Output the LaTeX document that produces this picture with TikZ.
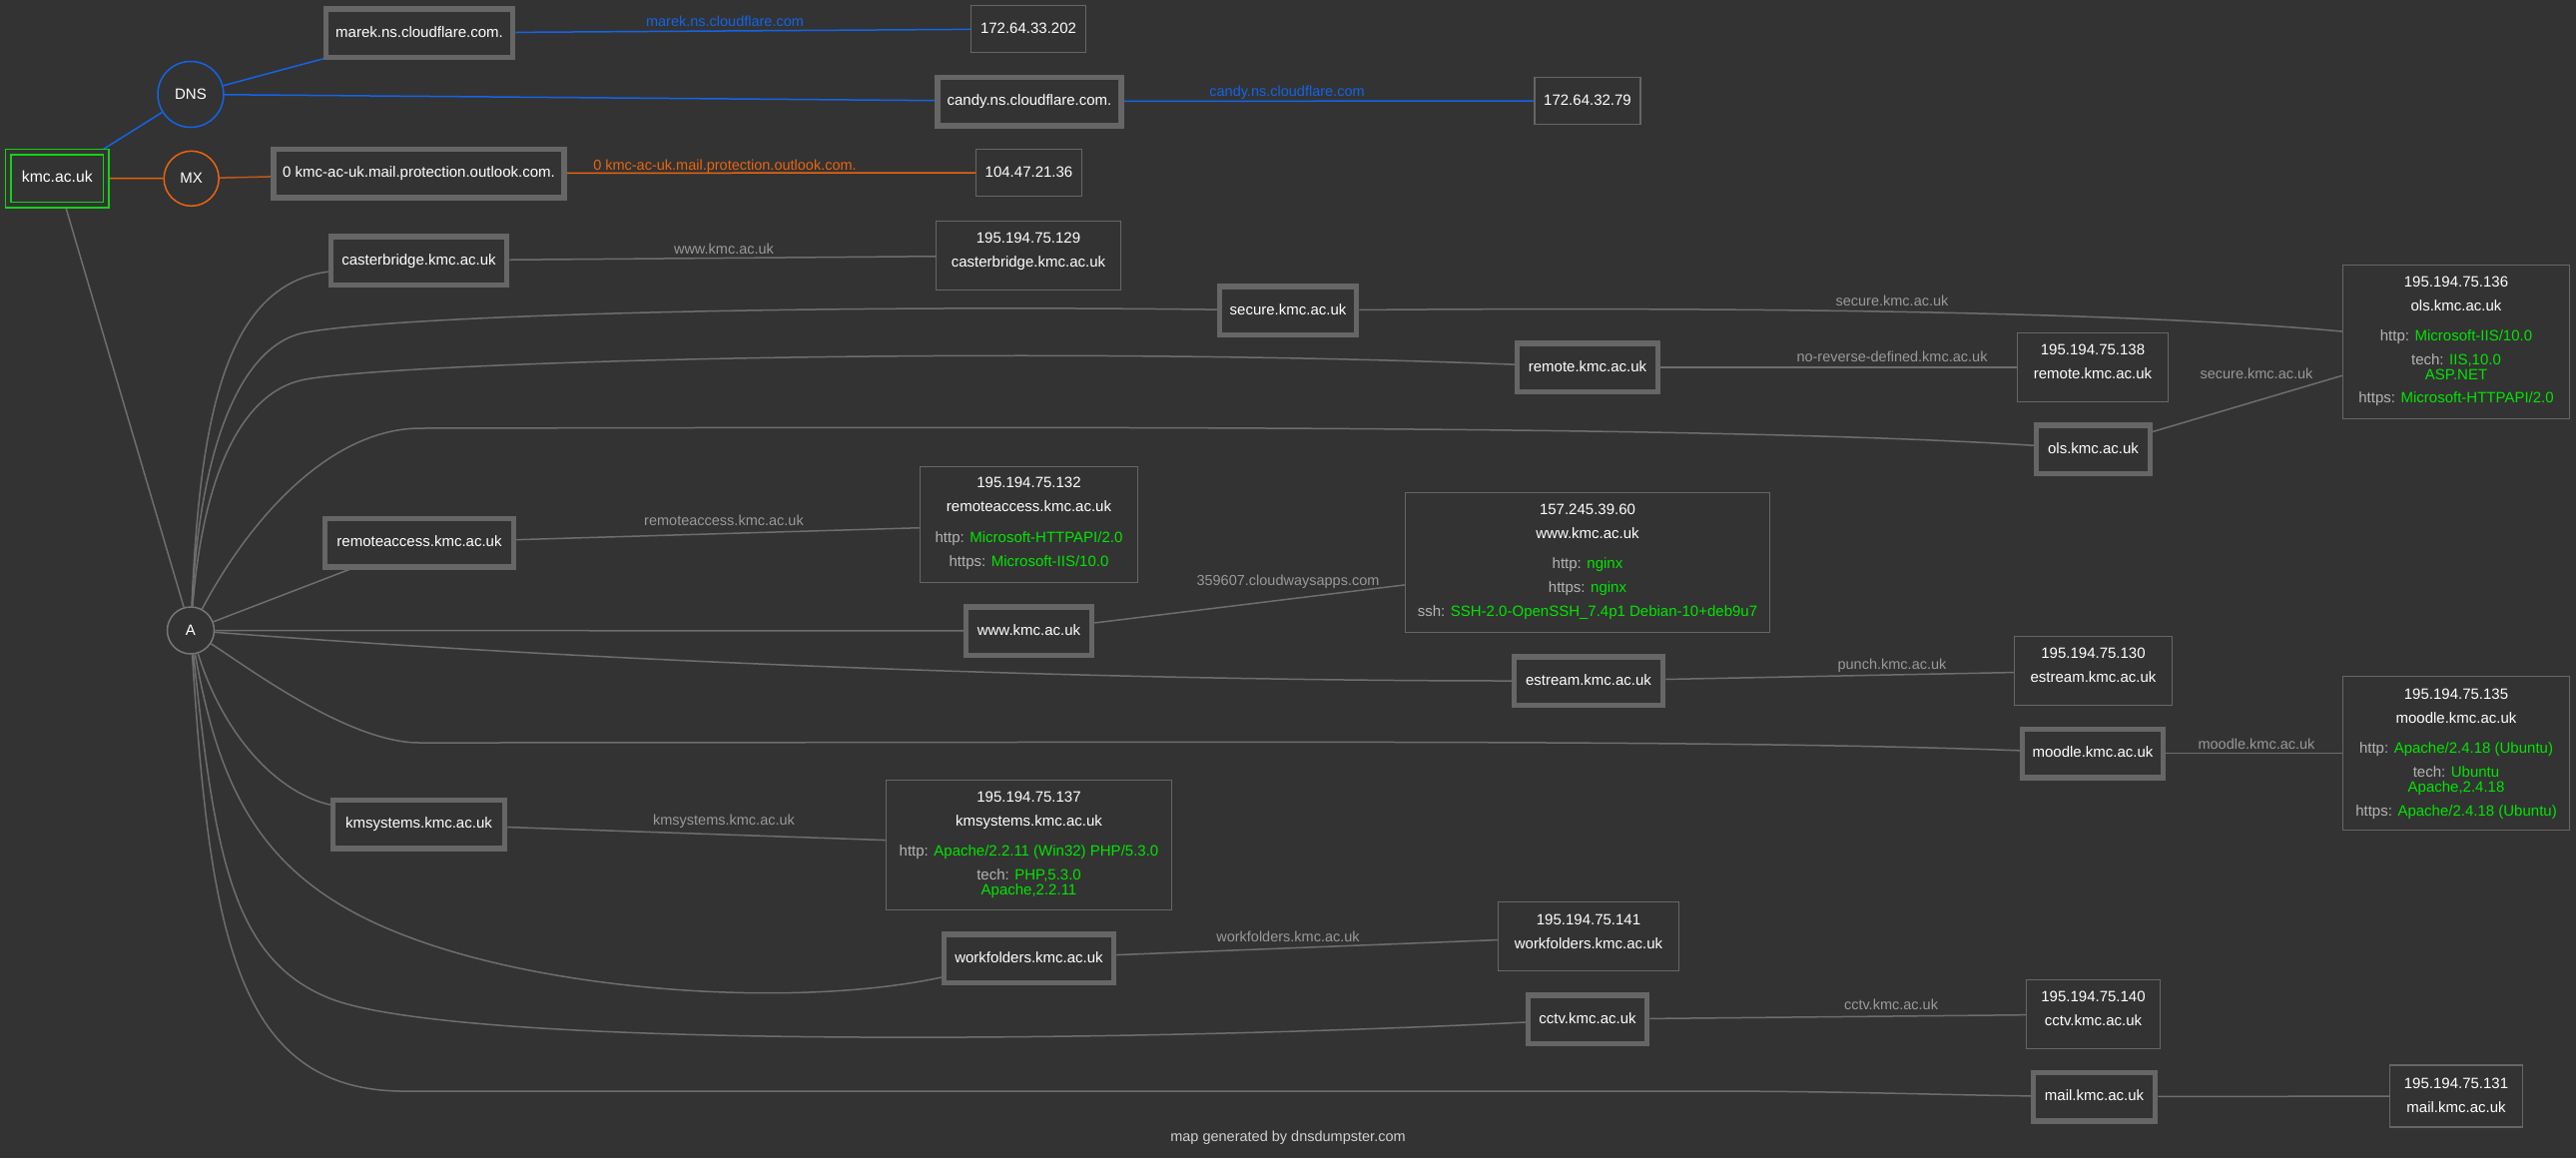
\documentclass[tikz,border=0pt]{standalone}
\usepackage{fontspec}
\setmainfont{Liberation Sans}
\pgfdeclarelayer{bglayer}
\pgfdeclarelayer{edgelayer}
\pgfsetlayers{bglayer,edgelayer,main}
\definecolor{bg}{HTML}{333333}
\definecolor{boxgray}{HTML}{666666}
\definecolor{edgegray}{HTML}{6E6E6E}
\definecolor{agray}{HTML}{777777}
\definecolor{lblgray}{HTML}{999999}
\definecolor{keygray}{HTML}{B4B4B4}
\definecolor{grn}{HTML}{00E600}
\definecolor{kmcgreen}{HTML}{14D214}
\definecolor{dnsblue}{HTML}{1464E6}
\definecolor{mxorange}{HTML}{E8650F}
\definecolor{mxdark}{HTML}{C0581C}
\definecolor{footgray}{HTML}{D0D0D0}
\newcommand{\srvline}[2]{{\color{keygray}#1:} {\color{grn}#2}}
\begin{document}
\begin{tikzpicture}[x=1pt,y=-1pt,
  host/.style={draw=boxgray, line width=5.5pt, fill=bg, text=white,
    font=\fontsize{15}{18}\selectfont, text height=11pt, text depth=3pt,
    minimum height=48.5pt, inner sep=0pt},
  ipbox/.style={draw=boxgray, line width=1.5pt, fill=bg, inner sep=0pt, text=white,
    font=\fontsize{15}{18}\selectfont, text height=11pt, text depth=3pt},
  iptext/.style={text=white, font=\fontsize{15}{24}\selectfont, align=center, inner sep=0pt},
  ring/.style={circle, line width=1.5pt, fill=bg, text=white,
    font=\fontsize{15}{18}\selectfont, inner sep=0pt},
  link/.style={draw=edgegray, line width=1.5pt},
  dnslink/.style={draw=dnsblue, line width=1.5pt},
  mxlink/.style={draw=mxorange, line width=1.5pt},
  elabel/.style={text=lblgray, font=\fontsize{14.5}{17}\selectfont,
    text height=10.5pt, text depth=3pt, inner sep=0pt}]
\useasboundingbox (0,0) rectangle (2580,1160);
\begin{pgfonlayer}{bglayer}
\fill[bg] (0,0) rectangle (2580,1160);
\end{pgfonlayer}

% root
\node[draw=kmcgreen, double=bg, double distance=4pt, line width=1.5pt, fill=bg,
  minimum width=98.3pt, minimum height=53pt, inner sep=0pt, text=white,
  font=\fontsize{15.7}{18}\selectfont, text height=11pt, text depth=3pt] (kmc) at (57.3,178.5) {kmc.ac.uk};

% record type circles
\node[ring, draw=dnsblue, minimum size=66pt] (DNS) at (191,94.5) {DNS};
\node[ring, draw=mxorange, minimum size=55pt] (MX) at (191.7,178.8) {MX};
\node[ring, draw=agray, minimum size=47pt] (A) at (191,631.5) {A};

% host boxes
\node[host, minimum width=187pt] (marek) at (420,33) {marek.ns.cloudflare.com.};
\node[host, minimum width=184pt] (candy) at (1031,101.5) {candy.ns.cloudflare.com.};
\node[host, minimum width=291pt] (outlook) at (419.5,173.5) {0 kmc-ac-uk.mail.protection.outlook.com.};
\node[host, minimum width=176pt] (caster) at (419.5,261) {casterbridge.kmc.ac.uk};
\node[host, minimum width=137pt] (secure) at (1290,311) {secure.kmc.ac.uk};
\node[host, minimum width=141pt] (remote) at (1590,368) {remote.kmc.ac.uk};
\node[host, minimum width=114pt] (ols) at (2096.5,450) {ols.kmc.ac.uk};
\node[host, minimum width=189pt] (raccess) at (420,543.5) {remoteaccess.kmc.ac.uk};
\node[host, minimum width=126pt] (www) at (1030.5,632) {www.kmc.ac.uk};
\node[host, minimum width=149pt] (estream) at (1591,682) {estream.kmc.ac.uk};
\node[host, minimum width=141pt] (moodle) at (2096,754.5) {moodle.kmc.ac.uk};
\node[host, minimum width=172pt] (kms) at (419.5,825.5) {kmsystems.kmc.ac.uk};
\node[host, minimum width=170pt] (wf) at (1030.5,960) {workfolders.kmc.ac.uk};
\node[host, minimum width=119pt] (cctv) at (1590,1021) {cctv.kmc.ac.uk};
\node[host, minimum width=122pt] (mail) at (2097.5,1098.5) {mail.kmc.ac.uk};

% single-line ip boxes
\node[ipbox, minimum width=115pt, minimum height=47pt] (ip1) at (1030,29) {172.64.33.202};
\node[ipbox, minimum width=106pt, minimum height=47pt] (ip2) at (1590,101) {172.64.32.79};
\node[ipbox, minimum width=106pt, minimum height=47pt] (ip3) at (1030.5,173) {104.47.21.36};

% multi-line ip boxes
\node[ipbox, minimum width=185pt, minimum height=69pt] (ipcast) at (1030,256) {};
\node[iptext] (ipcastT) at (1030,251) {\strut 195.194.75.129\\casterbridge.kmc.ac.uk\strut};

\node[ipbox, minimum width=227pt, minimum height=154pt] (ipols) at (2460,342.5) {};
\node[iptext] (ipolsT) at (2460,341) {\strut 195.194.75.136\\ols.kmc.ac.uk\\[6pt]
  \srvline{http}{Microsoft-IIS/10.0}\\ \srvline{tech}{IIS,10.0}\\[-9pt]
  {\color{grn}ASP.NET}\\[-1pt] \srvline{https}{Microsoft-HTTPAPI/2.0}\strut};

\node[ipbox, minimum width=151pt, minimum height=69pt] (ipremote) at (2096,368) {};
\node[iptext] (ipremoteT) at (2096,363) {\strut 195.194.75.138\\remote.kmc.ac.uk\strut};

\node[ipbox, minimum width=218pt, minimum height=116pt] (ipra) at (1030.5,525.5) {};
\node[iptext] (ipraT) at (1030.5,523.5) {\strut 195.194.75.132\\remoteaccess.kmc.ac.uk\\[7pt]
  \srvline{http}{Microsoft-HTTPAPI/2.0}\\ \srvline{https}{Microsoft-IIS/10.0}\strut};

\node[ipbox, minimum width=365pt, minimum height=140pt] (ipwww) at (1590,563.5) {};
\node[iptext] (ipwwwT) at (1590,562) {\strut 157.245.39.60\\www.kmc.ac.uk\\[6pt]
  \srvline{http}{nginx}\\ \srvline{https}{nginx}\\
  \srvline{ssh}{SSH-2.0-OpenSSH\_7.4p1 Debian-10+deb9u7}\strut};

\node[ipbox, minimum width=158pt, minimum height=69pt] (ipest) at (2096.5,672) {};
\node[iptext] (ipestT) at (2096.5,667) {\strut 195.194.75.130\\estream.kmc.ac.uk\strut};

\node[ipbox, minimum width=227pt, minimum height=154pt] (ipmoodle) at (2460,754.5) {};
\node[iptext] (ipmoodleT) at (2460,754) {\strut 195.194.75.135\\moodle.kmc.ac.uk\\[6pt]
  \srvline{http}{Apache/2.4.18 (Ubuntu)}\\ \srvline{tech}{Ubuntu}\\[-9pt]
  {\color{grn}Apache,2.4.18}\\ \srvline{https}{Apache/2.4.18 (Ubuntu)}\strut};

\node[ipbox, minimum width=286pt, minimum height=130pt] (ipkms) at (1030.5,846.5) {};
\node[iptext] (ipkmsT) at (1030.5,845.5) {\strut 195.194.75.137\\kmsystems.kmc.ac.uk\\[6pt]
  \srvline{http}{Apache/2.2.11 (Win32) PHP/5.3.0}\\ \srvline{tech}{PHP,5.3.0}\\[-9pt]
  {\color{grn}Apache,2.2.11}\strut};

\node[ipbox, minimum width=181pt, minimum height=69pt] (ipwf) at (1591,938) {};
\node[iptext] (ipwfT) at (1591,933.5) {\strut 195.194.75.141\\workfolders.kmc.ac.uk\strut};

\node[ipbox, minimum width=134pt, minimum height=69pt] (ipcctv) at (2096.5,1016) {};
\node[iptext] (ipcctvT) at (2096.5,1011) {\strut 195.194.75.140\\cctv.kmc.ac.uk\strut};

\node[ipbox, minimum width=133pt, minimum height=62pt] (ipmail) at (2460,1098) {};
\node[iptext] (ipmailT) at (2460,1097.5) {\strut 195.194.75.131\\mail.kmc.ac.uk\strut};

% edge labels
\node[elabel, text=dnsblue] (lmarek) at (726,23) {marek.ns.cloudflare.com};
\node[elabel, text=dnsblue] (lcandy) at (1289,93) {candy.ns.cloudflare.com};
\node[elabel, text=mxorange] (loutlook) at (726,167) {0 kmc-ac-uk.mail.protection.outlook.com.};
\node[elabel] (lcaster) at (725,251) {www.kmc.ac.uk};
\node[elabel] (lsecure) at (1895,303) {secure.kmc.ac.uk};
\node[elabel] (lremote) at (1895,359) {no-reverse-defined.kmc.ac.uk};
\node[elabel] (lols) at (2260,376) {secure.kmc.ac.uk};
\node[elabel] (lra) at (725,523) {remoteaccess.kmc.ac.uk};
\node[elabel] (lwww) at (1290,583) {359607.cloudwaysapps.com};
\node[elabel] (lest) at (1895,667) {punch.kmc.ac.uk};
\node[elabel] (lmoodle) at (2260,747) {moodle.kmc.ac.uk};
\node[elabel] (lkms) at (725,823) {kmsystems.kmc.ac.uk};
\node[elabel] (lwf) at (1290,940) {workfolders.kmc.ac.uk};
\node[elabel] (lcctv) at (1894,1008) {cctv.kmc.ac.uk};

\node[elabel, text=footgray] (footer) at (1290,1140) {map generated by dnsdumpster.com};

% connectors
\begin{pgfonlayer}{edgelayer}
\draw[dnslink] (kmc) -- (DNS);
\draw[dnslink] (DNS) -- (marek);
\draw[dnslink] (DNS) -- (candy);
\draw[dnslink] (marek) -- (ip1);
\draw[dnslink] (candy) -- (ip2);
\draw[mxlink] (kmc) -- (MX);
\draw[mxlink, draw=mxdark] (MX) -- (outlook);
\draw[mxlink] (outlook) -- (ip3);

\draw[link] (A) -- (kmc);
\draw[link] (A) .. controls (200,420) and (225,285) .. (caster);
\draw[link] (A) .. controls (200,450) and (240,345) .. (306,333)
  .. controls (400,316) and (800,305) .. (secure);
\draw[link] (A) .. controls (203,480) and (240,392) .. (306,380)
  .. controls (400,363) and (1000,345) .. (remote);
\draw[link] (A) .. controls (250,520) and (330,430) .. (420,429)
  .. controls (1000,428) and (1700,425) .. (ols);
\draw[link] (A) -- (raccess);
\draw[link] (A) -- (www);
\draw[link] (A) .. controls (700,670) and (1200,682) .. (estream);
\draw[link] (A) .. controls (250,670) and (350,744) .. (420,744)
  .. controls (1200,744) and (1700,740) .. (moodle);
\draw[link] (A) .. controls (225,740) and (280,795) .. (kms);
\draw[link] (A) .. controls (220,790) and (260,880) .. (400,935)
  .. controls (550,995) and (800,1010) .. (wf);
\draw[link] (A) .. controls (215,850) and (230,960) .. (330,1000)
  .. controls (455,1050) and (1100,1045) .. (cctv);
\draw[link] (A) .. controls (210,930) and (235,1090) .. (400,1093)
  -- (1700,1093) .. controls (1850,1093) and (1950,1097) .. (mail);

\draw[link] (caster) -- (ipcast);
\draw[link] (secure) .. controls (1800,307) and (2150,314) .. (ipols);
\draw[link] (remote) -- (ipremote);
\draw[link] (ols) -- (ipols);
\draw[link] (raccess) -- (ipra);
\draw[link] (www) -- (ipwww);
\draw[link] (estream) -- (ipest);
\draw[link] (moodle) -- (ipmoodle);
\draw[link] (kms) -- (ipkms);
\draw[link] (wf) -- (ipwf);
\draw[link] (cctv) -- (ipcctv);
\draw[link] (mail) -- (ipmail);
\end{pgfonlayer}
\end{tikzpicture}
\end{document}
